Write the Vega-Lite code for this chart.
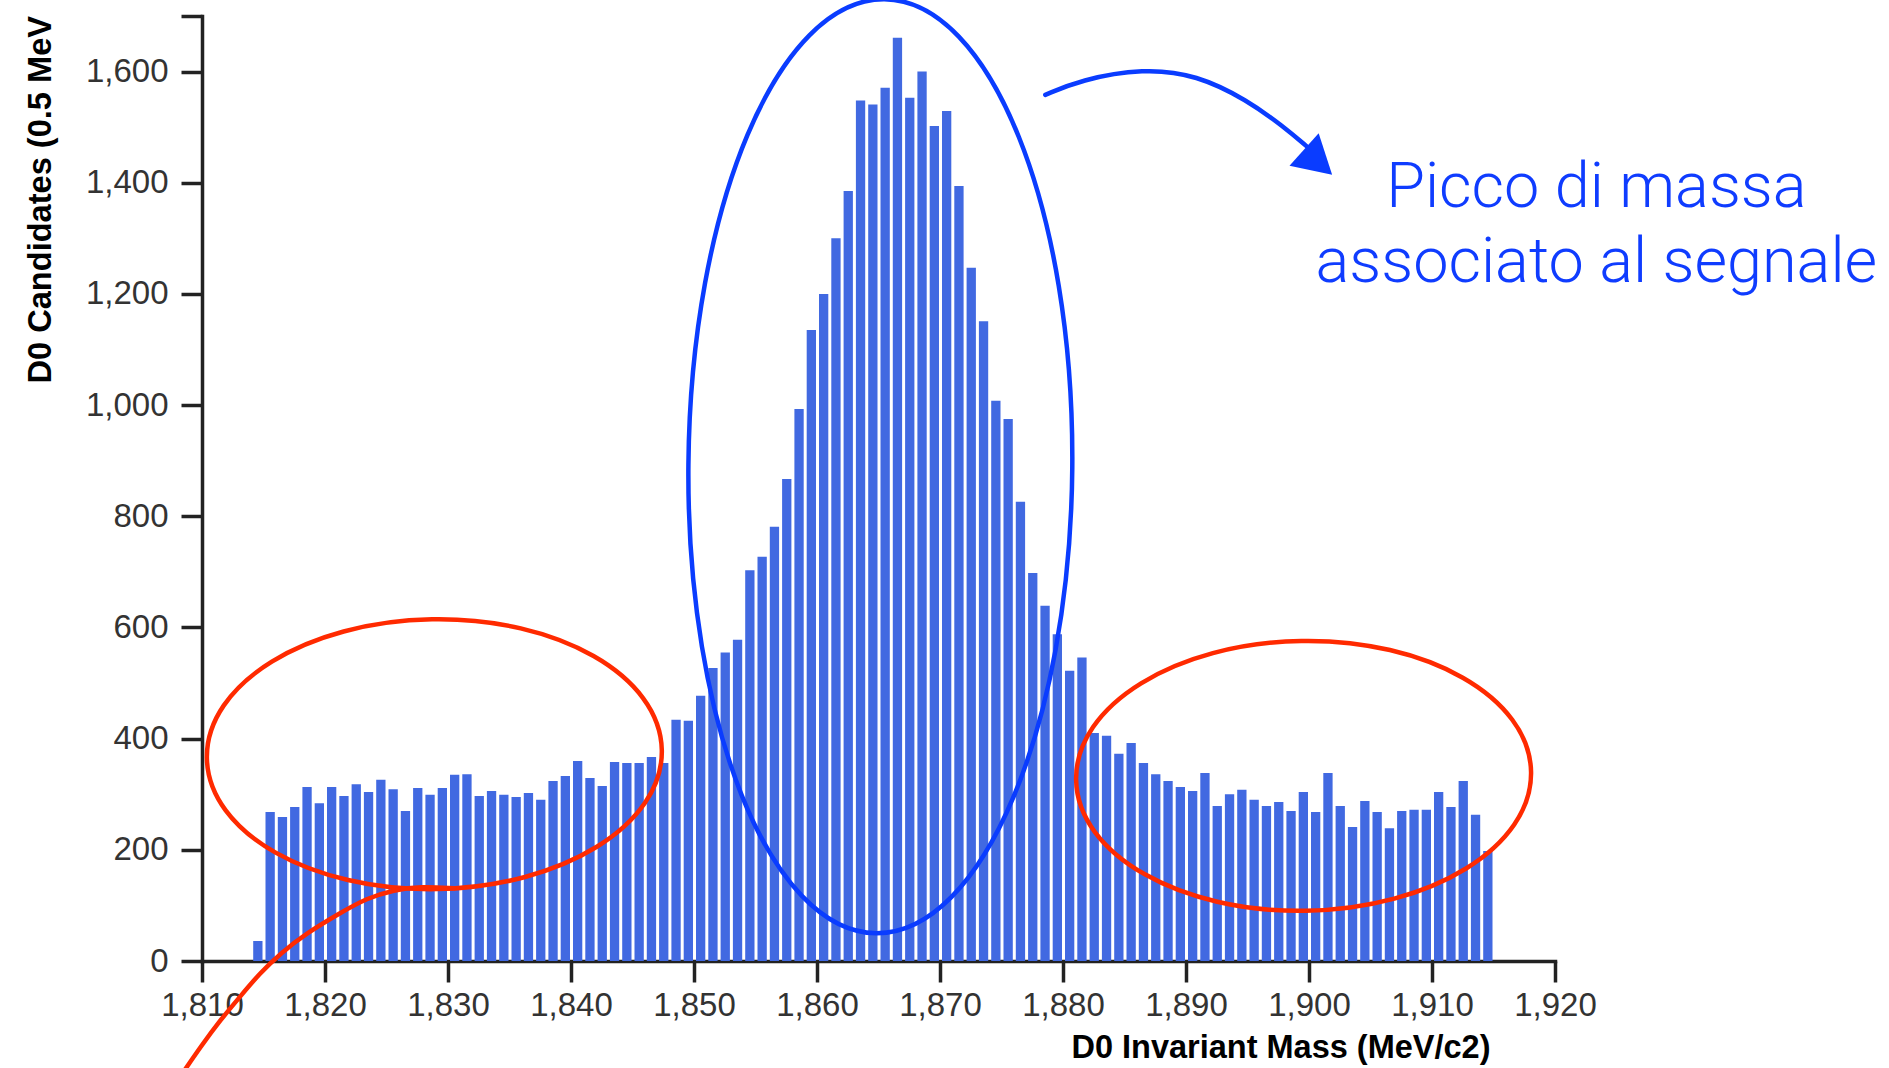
{
  "$schema": "https://vega.github.io/schema/vega-lite/v6.json",
  "autosize": "none",
  "width": 1353,
  "height": 945,
  "padding": {"left": 202, "top": 16, "right": 334, "bottom": 107},
  "background": "white",
  "config": {
    "view": {"stroke": null},
    "font": "Liberation Sans"
  },
  "layer": [
    {
      "data": {"values": [
        {"mass":1814,"mass_end":1815,"count":36},{"mass":1815,"mass_end":1816,"count":268},{"mass":1816,"mass_end":1817,"count":259},{"mass":1817,"mass_end":1818,"count":277},{"mass":1818,"mass_end":1819,"count":313},{"mass":1819,"mass_end":1820,"count":284},{"mass":1820,"mass_end":1821,"count":313},{"mass":1821,"mass_end":1822,"count":297},{"mass":1822,"mass_end":1823,"count":318},{"mass":1823,"mass_end":1824,"count":304},{"mass":1824,"mass_end":1825,"count":326},{"mass":1825,"mass_end":1826,"count":309},{"mass":1826,"mass_end":1827,"count":270},{"mass":1827,"mass_end":1828,"count":311},{"mass":1828,"mass_end":1829,"count":299},{"mass":1829,"mass_end":1830,"count":311},{"mass":1830,"mass_end":1831,"count":335},{"mass":1831,"mass_end":1832,"count":336},{"mass":1832,"mass_end":1833,"count":297},{"mass":1833,"mass_end":1834,"count":306},{"mass":1834,"mass_end":1835,"count":299},{"mass":1835,"mass_end":1836,"count":295},{"mass":1836,"mass_end":1837,"count":302},{"mass":1837,"mass_end":1838,"count":290},{"mass":1838,"mass_end":1839,"count":324},{"mass":1839,"mass_end":1840,"count":333},{"mass":1840,"mass_end":1841,"count":360},{"mass":1841,"mass_end":1842,"count":329},{"mass":1842,"mass_end":1843,"count":315},{"mass":1843,"mass_end":1844,"count":358},{"mass":1844,"mass_end":1845,"count":356},{"mass":1845,"mass_end":1846,"count":356},{"mass":1846,"mass_end":1847,"count":367},{"mass":1847,"mass_end":1848,"count":356},{"mass":1848,"mass_end":1849,"count":434},{"mass":1849,"mass_end":1850,"count":432},{"mass":1850,"mass_end":1851,"count":477},{"mass":1851,"mass_end":1852,"count":527},{"mass":1852,"mass_end":1853,"count":555},{"mass":1853,"mass_end":1854,"count":578},{"mass":1854,"mass_end":1855,"count":703},{"mass":1855,"mass_end":1856,"count":727},{"mass":1856,"mass_end":1857,"count":781},{"mass":1857,"mass_end":1858,"count":867},{"mass":1858,"mass_end":1859,"count":993},{"mass":1859,"mass_end":1860,"count":1135},{"mass":1860,"mass_end":1861,"count":1200},{"mass":1861,"mass_end":1862,"count":1300},{"mass":1862,"mass_end":1863,"count":1385},{"mass":1863,"mass_end":1864,"count":1548},{"mass":1864,"mass_end":1865,"count":1541},{"mass":1865,"mass_end":1866,"count":1571},{"mass":1866,"mass_end":1867,"count":1661},{"mass":1867,"mass_end":1868,"count":1553},{"mass":1868,"mass_end":1869,"count":1600},{"mass":1869,"mass_end":1870,"count":1502},{"mass":1870,"mass_end":1871,"count":1529},{"mass":1871,"mass_end":1872,"count":1394},{"mass":1872,"mass_end":1873,"count":1247},{"mass":1873,"mass_end":1874,"count":1151},{"mass":1874,"mass_end":1875,"count":1008},{"mass":1875,"mass_end":1876,"count":975},{"mass":1876,"mass_end":1877,"count":826},{"mass":1877,"mass_end":1878,"count":698},{"mass":1878,"mass_end":1879,"count":639},{"mass":1879,"mass_end":1880,"count":588},{"mass":1880,"mass_end":1881,"count":522},{"mass":1881,"mass_end":1882,"count":546},{"mass":1882,"mass_end":1883,"count":410},{"mass":1883,"mass_end":1884,"count":405},{"mass":1884,"mass_end":1885,"count":373},{"mass":1885,"mass_end":1886,"count":392},{"mass":1886,"mass_end":1887,"count":356},{"mass":1887,"mass_end":1888,"count":336},{"mass":1888,"mass_end":1889,"count":324},{"mass":1889,"mass_end":1890,"count":313},{"mass":1890,"mass_end":1891,"count":306},{"mass":1891,"mass_end":1892,"count":338},{"mass":1892,"mass_end":1893,"count":279},{"mass":1893,"mass_end":1894,"count":300},{"mass":1894,"mass_end":1895,"count":308},{"mass":1895,"mass_end":1896,"count":290},{"mass":1896,"mass_end":1897,"count":279},{"mass":1897,"mass_end":1898,"count":286},{"mass":1898,"mass_end":1899,"count":270},{"mass":1899,"mass_end":1900,"count":304},{"mass":1900,"mass_end":1901,"count":268},{"mass":1901,"mass_end":1902,"count":338},{"mass":1902,"mass_end":1903,"count":279},{"mass":1903,"mass_end":1904,"count":241},{"mass":1904,"mass_end":1905,"count":288},{"mass":1905,"mass_end":1906,"count":268},{"mass":1906,"mass_end":1907,"count":239},{"mass":1907,"mass_end":1908,"count":270},{"mass":1908,"mass_end":1909,"count":272},{"mass":1909,"mass_end":1910,"count":272},{"mass":1910,"mass_end":1911,"count":304},{"mass":1911,"mass_end":1912,"count":277},{"mass":1912,"mass_end":1913,"count":324},{"mass":1913,"mass_end":1914,"count":263},{"mass":1914,"mass_end":1915,"count":198}
      ]},
      "mark": {"type": "bar", "color": "#4169e1", "binSpacing": 3},
      "encoding": {
        "x": {
          "field": "mass", "type": "quantitative", "bin": "binned",
          "title": "D0 Invariant Mass (MeV/c2)",
          "scale": {"domain": [1810, 1920], "nice": false, "zero": false},
          "axis": {
            "values": [1810,1820,1830,1840,1850,1860,1870,1880,1890,1900,1910,1920],
            "format": ",d",
            "grid": false,
            "domainColor": "#222", "domainWidth": 3.5, "domainCap": "square",
            "tickColor": "#222", "tickWidth": 3.5, "tickSize": 21,
            "labelFont": "Liberation Sans", "labelFontSize": 33, "labelColor": "#333",
            "labelPadding": 7, "labelBaseline": "top", "labelFlush": false, "labelOverlap": false,
            "titleFont": "Liberation Sans", "titleFontWeight": "bold", "titleFontSize": 32.5, "titleColor": "#000",
            "titleAlign": "right", "titleAnchor": "start", "titleX": 1288, "titleY": 96, "titleBaseline": "alphabetic"
          }
        },
        "x2": {"field": "mass_end"},
        "y": {
          "field": "count", "type": "quantitative",
          "title": "D0 Candidates (0.5 MeV",
          "scale": {"domain": [0, 1700], "nice": false},
          "axis": {
            "values": [0,200,400,600,800,1000,1200,1400,1600,1700],
            "format": ",d",
            "labelExpr": "datum.value == 1700 ? '' : datum.label",
            "grid": false,
            "domainColor": "#222", "domainWidth": 3.5, "domainCap": "square",
            "tickColor": "#222", "tickWidth": 3.5, "tickSize": 21,
            "labelFont": "Liberation Sans", "labelFontSize": 33, "labelColor": "#333",
            "labelPadding": 13, "labelFlush": false, "labelOverlap": false,
            "titleFont": "Liberation Sans", "titleFontWeight": "bold", "titleFontSize": 32.6, "titleColor": "#000",
            "titleAngle": 270, "titleAlign": "left", "titleAnchor": "start", "titleX": -152, "titleY": 367, "titleBaseline": "alphabetic"
          }
        }
      }
    },
    {
      "data": {"values": [
        {"mass": 1828.89, "count": 372},
        {"mass": 1899.56, "count": 333}
      ]},
      "mark": {
        "type": "point",
        "shape": "M -1 0 C -1 -0.3275 -0.5523 -0.593 0 -0.593 C 0.5523 -0.593 1 -0.3275 1 0 C 1 0.3275 0.5523 0.593 0 0.593 C -0.5523 0.593 -1 0.3275 -1 0 Z",
        "size": 207025, "filled": false, "stroke": "#ff2a00", "strokeWidth": 4.5, "opacity": 1, "angle": -1
      },
      "encoding": {
        "x": {"field": "mass", "type": "quantitative"},
        "y": {"field": "count", "type": "quantitative"}
      }
    },
    {
      "data": {"values": [
        {"mass": 1865.15, "count": 890}
      ]},
      "mark": {
        "type": "point",
        "shape": "M 0 -1 C 0.2270 -1 0.411 -0.5523 0.411 0 C 0.411 0.5523 0.2270 1 0 1 C -0.2270 1 -0.411 0.5523 -0.411 0 C -0.411 -0.5523 -0.2270 -1 0 -1 Z",
        "size": 872356, "filled": false, "stroke": "#0a3cff", "strokeWidth": 4.5, "opacity": 1, "angle": 0.5
      },
      "encoding": {
        "x": {"field": "mass", "type": "quantitative"},
        "y": {"field": "count", "type": "quantitative"}
      }
    },
    {
      "data": {"values": [
        {"i": 0, "mass": 1830.5, "count": 131},
        {"i": 1, "mass": 1827.75, "count": 134},
        {"i": 2, "mass": 1825.6, "count": 128},
        {"i": 3, "mass": 1823.4, "count": 113},
        {"i": 4, "mass": 1821.2, "count": 86},
        {"i": 5, "mass": 1818.5, "count": 50},
        {"i": 6, "mass": 1816.4, "count": 14},
        {"i": 7, "mass": 1814.7, "count": -22},
        {"i": 8, "mass": 1813.1, "count": -64},
        {"i": 9, "mass": 1811.5, "count": -106},
        {"i": 10, "mass": 1809.9, "count": -154},
        {"i": 11, "mass": 1808.6, "count": -196}
      ]},
      "mark": {"type": "line", "color": "#ff2a00", "strokeWidth": 4.5, "interpolate": "basis", "strokeCap": "round"},
      "encoding": {
        "x": {"field": "mass", "type": "quantitative"},
        "y": {"field": "count", "type": "quantitative"},
        "order": {"field": "i", "type": "quantitative"}
      }
    },
    {
      "data": {"values": [
        {"i": 0, "mass": 1878.56, "count": 1558},
        {"i": 1, "mass": 1881.41, "count": 1585},
        {"i": 2, "mass": 1886.55, "count": 1606},
        {"i": 3, "mass": 1890.89, "count": 1594},
        {"i": 4, "mass": 1894.96, "count": 1549},
        {"i": 5, "mass": 1897.93, "count": 1501},
        {"i": 6, "mass": 1899.84, "count": 1465}
      ]},
      "mark": {"type": "line", "color": "#0a3cff", "strokeWidth": 4.5, "interpolate": "basis", "strokeCap": "round"},
      "encoding": {
        "x": {"field": "mass", "type": "quantitative"},
        "y": {"field": "count", "type": "quantitative"},
        "order": {"field": "i", "type": "quantitative"}
      }
    },
    {
      "data": {"values": [
        {"mass": 1900.74, "count": 1437}
      ]},
      "mark": {"type": "point", "shape": "triangle-up", "size": 1900, "filled": true, "color": "#0a3cff", "opacity": 1, "angle": 132},
      "encoding": {
        "x": {"field": "mass", "type": "quantitative"},
        "y": {"field": "count", "type": "quantitative"}
      }
    },
    {
      "data": {"values": [
        {"mass": 1923.36, "count": 1356, "label": "Picco di massa"},
        {"mass": 1923.36, "count": 1222, "label": "associato al segnale"}
      ]},
      "mark": {"type": "text", "font": "Roboto", "fontWeight": 300, "fontSize": 63, "color": "#0f3cff", "align": "center", "baseline": "alphabetic"},
      "encoding": {
        "x": {"field": "mass", "type": "quantitative"},
        "y": {"field": "count", "type": "quantitative"},
        "text": {"field": "label", "type": "nominal"}
      }
    }
  ]
}
